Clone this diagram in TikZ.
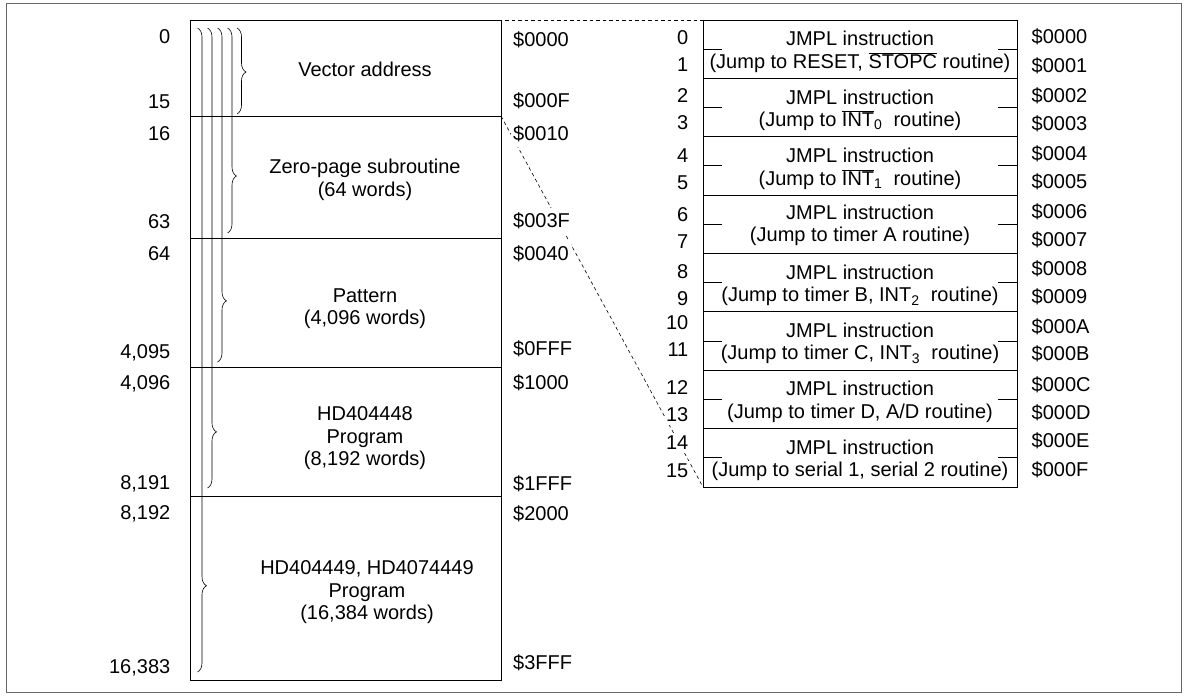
\documentclass[tikz,border=0pt]{standalone}
\usepackage{fontspec}
\setmainfont{Liberation Sans}
\usetikzlibrary{decorations.pathreplacing}
\newcommand\myovl[1]{$\overline{\mbox{#1}}$}
\begin{document}
\begin{tikzpicture}[x=1pt,y=-1pt,
  every node/.style={font=\fontsize{20}{22.5}\selectfont, inner sep=1.5pt},
  seg/.style={draw, line width=0.9pt, minimum width=311pt, anchor=north west, inner sep=0pt, outer sep=0pt},
  vrow/.style={draw, line width=0.9pt, minimum width=314pt, minimum height=58.375pt, anchor=north west, inner sep=0pt, outer sep=0pt},
  bracestyle/.style={decorate, decoration={brace, amplitude=9pt, aspect=#1}, line width=0.6pt},
  dashline/.style={line width=0.6pt, dash pattern=on 3.5pt off 3pt},
  tick/.style={line width=0.9pt},
  numl/.style={anchor=east},
  addr/.style={anchor=west, fill=white, inner xsep=2pt, inner ysep=5pt},
  vnum/.style={anchor=east, fill=white, inner xsep=1.5pt, inner ysep=3pt},
  vtext/.style={align=center},
  mtext/.style={align=center}
]
\useasboundingbox (0,0) rectangle (1187,696);
\draw[black!60, line width=0.8pt] (6,3) rectangle (1181,692);

% memory map segments
\node[seg, minimum height=96pt] (s1) at (190,20) {};
\node[seg, minimum height=122pt] (s2) at (190,116) {};
\node[seg, minimum height=129pt] (s3) at (190,238) {};
\node[seg, minimum height=129pt] (s4) at (190,367) {};
\node[seg, minimum height=184pt] (s5) at (190,496) {};

% braces
\draw[bracestyle=0.512] (237,28) -- (237,114);
\draw[bracestyle=0.722] (227.5,28) -- (227.5,233);
\draw[bracestyle=0.817] (217.5,28) -- (217.5,362);
\draw[bracestyle=0.878] (207.5,28) -- (207.5,488);
\draw[bracestyle=0.866] (197.5,28) -- (197.5,672);

% segment texts
\node[mtext] (t1) at (365,69) {Vector address};
\node[mtext] (t2) at (365,180) {Zero-page subroutine\\(64 words)};
\node[mtext] (t3) at (365,308.5) {Pattern\\(4,096 words)};
\node[mtext] (t4) at (365,438.5) {HD404448\\Program\\(8,192 words)};
\node[mtext] (t5) at (367,592.5) {HD404449, HD4074449\\Program\\(16,384 words)};

% vector table rows
\foreach \i in {0,...,7} {
  \node[vrow] (r\i) at (703,20+58.375*\i) {};
  \draw[tick] (r\i.west) -- ++(19,0);
  \draw[tick] (r\i.east) -- ++(-19,0);
}

% dashed connectors
\draw[dashline] ([xshift=4pt]s1.north east) -- (r0.north west);
\draw[dashline] (s1.south east) -- (r7.south west);

% vector texts
\node[vtext] (v0) at (860,52) {JMPL instruction\\(Jump to RESET, \myovl{STOPC} routine)};
\node[vtext] (v1) at (860,110.4) {JMPL instruction\\(Jump to \myovl{INT}\textsubscript{0}~ routine)};
\node[vtext] (v2) at (860,168.8) {JMPL instruction\\(Jump to \myovl{INT}\textsubscript{1}~ routine)};
\node[vtext] (v3) at (860,225.5) {JMPL instruction\\(Jump to timer A routine)};
\node[vtext] (v4) at (860,285.5) {JMPL instruction\\(Jump to timer B, INT\textsubscript{2}~ routine)};
\node[vtext] (v5) at (860,343.5) {JMPL instruction\\(Jump to timer C, INT\textsubscript{3}~ routine)};
\node[vtext] (v6) at (860,402) {JMPL instruction\\(Jump to timer D, A/D routine)};
\node[vtext] (v7) at (860,460.5) {JMPL instruction\\(Jump to serial 1, serial 2 routine)};

% left numbers
\node[numl] (n0) at (172,37) {0};
\node[numl] (n15) at (172,102) {15};
\node[numl] (n16) at (172,134) {16};
\node[numl] (n63) at (172,222) {63};
\node[numl] (n64) at (172,254) {64};
\node[numl] (n4095) at (172,353) {4,095};
\node[numl] (n4096) at (172,384) {4,096};
\node[numl] (n8191) at (172,484) {8,191};
\node[numl] (n8192) at (172,514) {8,192};
\node[numl] (n16383) at (172,668) {16,383};

% memory addresses
\node[addr] (a0) at (511,40) {\$0000};
\node[addr] (a1) at (511,101) {\$000F};
\node[addr] (a2) at (511,134) {\$0010};
\node[addr] (a3) at (511,221) {\$003F};
\node[addr] (a4) at (511,254) {\$0040};
\node[addr] (a5) at (511,349) {\$0FFF};
\node[addr] (a6) at (511,383) {\$1000};
\node[addr] (a7) at (511,484) {\$1FFF};
\node[addr] (a8) at (511,514) {\$2000};
\node[addr] (a9) at (511,663) {\$3FFF};

% vector numbers
\node[vnum] (w0) at (690,38) {0};
\node[vnum] (w1) at (690,65) {1};
\node[vnum] (w2) at (690,96) {2};
\node[vnum] (w3) at (690,123) {3};
\node[vnum] (w4) at (690,156) {4};
\node[vnum] (w5) at (690,183) {5};
\node[vnum] (w6) at (690,215) {6};
\node[vnum] (w7) at (690,242) {7};
\node[vnum] (w8) at (690,272) {8};
\node[vnum] (w9) at (690,299) {9};
\node[vnum] (w10) at (690,323) {10};
\node[vnum] (w11) at (690,350) {11};
\node[vnum] (w12) at (690,388) {12};
\node[vnum] (w13) at (690,415) {13};
\node[vnum] (w14) at (690,443) {14};
\node[vnum] (w15) at (690,471) {15};

% vector addresses
\node[anchor=west] (b0) at (1030,37) {\$0000};
\node[anchor=west] (b1) at (1030,66) {\$0001};
\node[anchor=west] (b2) at (1030,96) {\$0002};
\node[anchor=west] (b3) at (1030,124) {\$0003};
\node[anchor=west] (b4) at (1030,154) {\$0004};
\node[anchor=west] (b5) at (1030,182) {\$0005};
\node[anchor=west] (b6) at (1030,212) {\$0006};
\node[anchor=west] (b7) at (1030,240) {\$0007};
\node[anchor=west] (b8) at (1030,269) {\$0008};
\node[anchor=west] (b9) at (1030,297) {\$0009};
\node[anchor=west] (b10) at (1030,327) {\$000A};
\node[anchor=west] (b11) at (1030,354) {\$000B};
\node[anchor=west] (b12) at (1030,385) {\$000C};
\node[anchor=west] (b13) at (1030,413) {\$000D};
\node[anchor=west] (b14) at (1030,441) {\$000E};
\node[anchor=west] (b15) at (1030,470) {\$000F};
\end{tikzpicture}
\end{document}
